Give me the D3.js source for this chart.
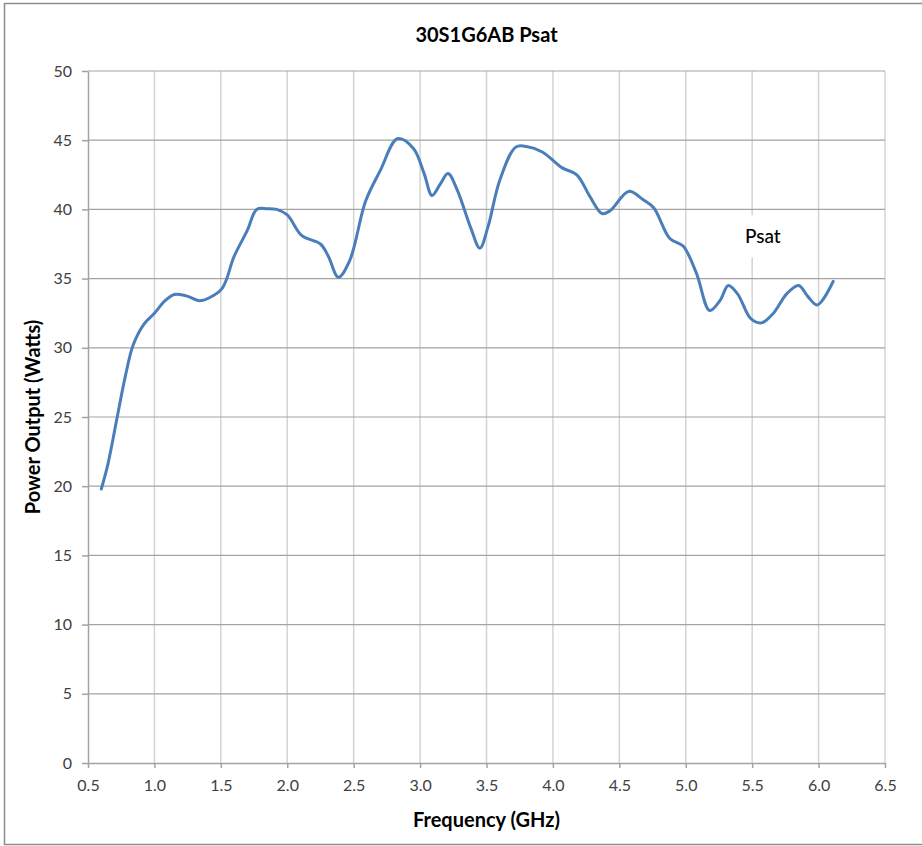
<!DOCTYPE html>
<html>
<head>
<meta charset="utf-8">
<script src="https://d3js.org/d3.v7.min.js"></script>
<style>
  body { margin: 0; background: #fff; }
  text { font-family: Lato, "Noto Sans", sans-serif; }
</style>
</head>
<body>
<script>
  // values
  const freq = [0.60, 0.65, 0.72, 0.78, 0.84, 0.92, 1.00, 1.08, 1.15, 1.24, 1.34, 1.41, 1.51, 1.60, 1.70, 1.77, 1.85, 1.92, 2.00,
    2.11, 2.25, 2.31, 2.385, 2.47, 2.59, 2.70, 2.83, 2.95, 3.03, 3.09, 3.15, 3.21, 3.28, 3.38, 3.45, 3.51, 3.60, 3.72, 3.80,
    3.92, 4.07, 4.18, 4.28, 4.37, 4.43, 4.57, 4.68, 4.76, 4.88, 4.98, 5.08, 5.18, 5.26, 5.32, 5.39, 5.49, 5.57, 5.66, 5.76,
    5.85, 5.92, 5.99, 6.11];
  const psat = [19.8, 21.6, 25.0, 27.9, 30.2, 31.7, 32.5, 33.4, 33.85, 33.75, 33.4, 33.6, 34.3, 36.6, 38.5, 40.0, 40.05, 40.0, 39.6,
    38.1, 37.5, 36.6, 35.1, 36.3, 40.6, 42.8, 45.1, 44.4, 42.6, 41.0, 41.8, 42.6, 41.4, 38.7, 37.2, 38.7, 42.1, 44.5, 44.55,
    44.15, 43.0, 42.5, 40.9, 39.7, 39.9, 41.3, 40.7, 40.1, 37.9, 37.35, 35.4, 32.7, 33.45, 34.5, 33.9, 32.1, 31.8, 32.5, 33.9,
    34.5, 33.7, 33.1, 34.8];
  const xTicks = [0.5, 1.0, 1.5, 2.0, 2.5, 3.0, 3.5, 4.0, 4.5, 5.0, 5.5, 6.0, 6.5];
  const yTicks = [0, 5, 10, 15, 20, 25, 30, 35, 40, 45, 50];

  const W = 922, H = 846;
  const mLeft = 88, mRight = 885, mTop = 71, mBottom = 763;

  const svg = d3.select("body").append("svg")
    .attr("width", W)
    .attr("height", H);

  // chart border
  svg.append("rect")
    .attr("x", 4.5).attr("y", 3.5)
    .attr("width", W + 10).attr("height", 841)
    .attr("fill", "#fff")
    .attr("stroke", "#8c8c8c")
    .attr("stroke-width", 1.5);

  const x = d3.scaleLinear().domain([0.5, 6.5]).range([mLeft, mRight]);
  const y = d3.scaleLinear().domain([0, 50]).range([mBottom, mTop]);

  // vertical grid
  svg.append("g")
    .selectAll("line")
    .data(xTicks.slice(1))
    .enter()
    .append("line")
    .attr("x1", d => x(d)).attr("x2", d => x(d))
    .attr("y1", mTop).attr("y2", mBottom)
    .attr("stroke", "#d4d4d4")
    .attr("stroke-width", 1.5);

  // horizontal grid
  svg.append("g")
    .selectAll("line")
    .data(yTicks.slice(1))
    .enter()
    .append("line")
    .attr("x1", mLeft).attr("x2", mRight)
    .attr("y1", d => y(d)).attr("y2", d => y(d))
    .attr("stroke", "#a3a3a3")
    .attr("stroke-width", 1.2);

  // axes
  const xAxis = svg.append("g")
    .attr("transform", "translate(0," + mBottom + ")")
    .call(d3.axisBottom(x).tickValues(xTicks).tickFormat(d3.format(".1f")).tickSizeInner(5).tickSizeOuter(0).tickPadding(12));
  const yAxis = svg.append("g")
    .attr("transform", "translate(" + mLeft + ",0)")
    .call(d3.axisLeft(y).tickValues(yTicks).tickSizeInner(6).tickSizeOuter(0).tickPadding(10));

  [xAxis, yAxis].forEach(function(a) {
    a.select(".domain").attr("stroke", "#a3a3a3").attr("stroke-width", 1.5);
    a.selectAll(".tick line").attr("stroke", "#a3a3a3").attr("stroke-width", 1.5);
    a.selectAll(".tick text")
      .attr("fill", "#404040")
      .style("font-size", "16px");
  });

  // the curve
  const line = d3.line()
    .x((d, i) => x(freq[i]))
    .y(d => y(d))
    .curve(d3.curveCatmullRom.alpha(0.5));

  svg.append("path")
    .datum(psat)
    .attr("d", line)
    .attr("fill", "none")
    .attr("stroke", "#4a7ebb")
    .attr("stroke-width", 3)
    .attr("stroke-linejoin", "round")
    .attr("stroke-linecap", "round");

  // series label with white box
  const lbl = svg.append("g").attr("transform", "translate(" + x(5.58) + "," + y(38.05) + ")");
  lbl.append("rect")
    .attr("x", -25).attr("y", -21)
    .attr("width", 50).attr("height", 42)
    .attr("fill", "#fff");
  lbl.append("text")
    .attr("text-anchor", "middle")
    .attr("dy", "0.35em")
    .style("font-size", "19px")
    .style("font-weight", "500")
    .attr("fill", "#000")
    .text("Psat");

  // titles
  svg.append("text")
    .attr("x", (mLeft + mRight) / 2)
    .attr("y", 42)
    .attr("text-anchor", "middle")
    .style("font-size", "20px")
    .style("font-weight", "bold")
    .attr("fill", "#000")
    .text("30S1G6AB Psat");

  svg.append("text")
    .attr("x", (mLeft + mRight) / 2)
    .attr("y", 827)
    .attr("text-anchor", "middle")
    .style("font-size", "20px")
    .style("font-weight", "bold")
    .attr("fill", "#000")
    .text("Frequency (GHz)");

  svg.append("text")
    .attr("transform", "translate(40," + (mTop + mBottom) / 2 + ") rotate(-90)")
    .attr("text-anchor", "middle")
    .style("font-size", "20px")
    .style("font-weight", "bold")
    .attr("fill", "#000")
    .text("Power Output (Watts)");
</script>
</body>
</html>
